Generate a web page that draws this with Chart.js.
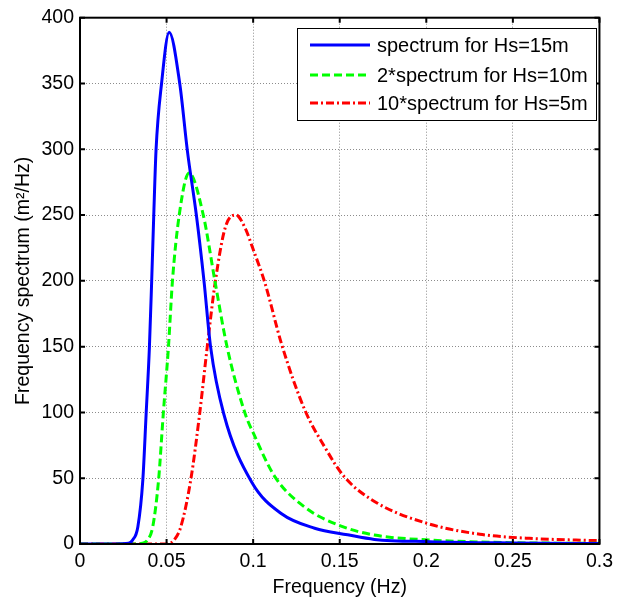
<!DOCTYPE html>
<html>
<head>
<meta charset="utf-8">
<script src="https://cdn.jsdelivr.net/npm/chart.js@4.4.1/dist/chart.umd.min.js"></script>
<style>
html,body{margin:0;padding:0;background:#fff;}
#wrap{position:relative;width:619px;height:601px;}
</style>
</head>
<body>
<div id="wrap"><canvas id="c" width="619" height="601"></canvas></div>
<script>
const seriesLabels = ['spectrum for Hs=15m', '2*spectrum for Hs=10m', '10*spectrum for Hs=5m'];
const xTickValues = [0, 0.05, 0.1, 0.15, 0.2, 0.25, 0.3];
const yTickValues = [0, 50, 100, 150, 200, 250, 300, 350, 400];

const blueFreq = [0, 0.02, 0.028, 0.0304, 0.0334, 0.0363, 0.0382, 0.0401, 0.0414, 0.0426, 0.0439, 0.0471, 0.0515, 0.0576, 0.062, 0.0672, 0.0716, 0.0754, 0.083, 0.0992, 0.1164, 0.1355, 0.1546, 0.17, 0.202, 0.25, 0.3];
const blueVals = [0, 0, 0.5, 3, 13, 49, 99, 150, 200, 250, 299, 350, 389, 350, 299, 250, 200, 150, 99, 47, 23, 12, 7, 3.5, 1.8, 0.8, 0.3];

const greenFreq = [0, 0.03, 0.036, 0.039, 0.042, 0.0454, 0.0481, 0.0511, 0.0534, 0.0573, 0.063, 0.0712, 0.0779, 0.0849, 0.0954, 0.1002, 0.1126, 0.1298, 0.1508, 0.17, 0.2023, 0.25, 0.3];
const greenVals = [0, 0, 0.5, 3, 13, 49, 99, 150, 200, 250, 282, 250, 200, 150, 99, 84, 51, 28, 13.6, 6.8, 3, 1, 0.5];

const redFreq = [0, 0.05, 0.052, 0.0544, 0.0582, 0.064, 0.0691, 0.0735, 0.0782, 0.084, 0.0901, 0.0954, 0.1, 0.1069, 0.1164, 0.1298, 0.1412, 0.1527, 0.1718, 0.2004, 0.2309, 0.2595, 0.3];
const redVals = [0, 0, 0.5, 3, 13, 49, 99, 150, 200, 241, 250, 240, 224, 198, 152, 102, 74, 51, 31, 15.7, 7.4, 4.3, 2.5];

const FONT = 'Arial, "Liberation Sans", sans-serif';

function pts(xs, ys){ return xs.map((x,i)=>({x:x, y:ys[i]})); }

const frameAndLegend = {
  id: 'frameAndLegend',
  afterDraw(chart){
    const ctx = chart.ctx, a = chart.chartArea;
    const xs = chart.scales.x, ys = chart.scales.y;
    ctx.save();
    ctx.strokeStyle = '#000';
    ctx.lineWidth = 2;
    ctx.strokeRect(a.left, a.top, a.right - a.left, a.bottom - a.top);
    ctx.beginPath();
    xTickValues.forEach(v=>{
      const p = xs.getPixelForValue(v);
      ctx.moveTo(p, a.bottom); ctx.lineTo(p, a.bottom - 5);
      ctx.moveTo(p, a.top); ctx.lineTo(p, a.top + 5);
    });
    yTickValues.forEach(v=>{
      const p = ys.getPixelForValue(v);
      ctx.moveTo(a.left, p); ctx.lineTo(a.left + 5, p);
      ctx.moveTo(a.right, p); ctx.lineTo(a.right - 5, p);
    });
    ctx.stroke();

    // legend box
    const bx = 297, by = 28, bw = 299, bh = 92;
    ctx.fillStyle = '#fff';
    ctx.fillRect(bx, by, bw, bh);
    ctx.lineWidth = 1;
    ctx.strokeStyle = '#000';
    ctx.strokeRect(bx + 0.5, by + 0.5, bw, bh);
    const rows = [45, 75, 103];
    chart.data.datasets.forEach((ds, i)=>{
      const y = rows[i];
      ctx.beginPath();
      ctx.strokeStyle = ds.borderColor;
      ctx.lineWidth = ds.borderWidth;
      ctx.setLineDash(ds.borderDash || []);
      ctx.moveTo(310, y); ctx.lineTo(370, y);
      ctx.stroke();
      ctx.setLineDash([]);
      ctx.fillStyle = '#000';
      ctx.font = '20px ' + FONT;
      ctx.textAlign = 'left';
      ctx.textBaseline = 'middle';
      ctx.fillText(ds.label, 377, y + 1);
    });
    ctx.restore();
  }
};

new Chart(document.getElementById('c'), {
  type: 'line',
  data: {
    datasets: [
      { label: seriesLabels[0], data: pts(blueFreq, blueVals), borderColor: '#0000ff', borderWidth: 3, pointRadius: 0, cubicInterpolationMode: 'monotone', fill: false },
      { label: seriesLabels[1], data: pts(greenFreq, greenVals), borderColor: '#00ff00', borderWidth: 3, borderDash: [8, 4], pointRadius: 0, cubicInterpolationMode: 'monotone', fill: false },
      { label: seriesLabels[2], data: pts(redFreq, redVals), borderColor: '#ff0000', borderWidth: 3, borderDash: [8, 3, 2, 3], pointRadius: 0, cubicInterpolationMode: 'monotone', fill: false }
    ]
  },
  options: {
    responsive: false,
    animation: false,
    devicePixelRatio: 1,
    layout: { padding: { top: 17, right: 15, left: 0, bottom: 0 } },
    plugins: { legend: { display: false }, tooltip: { enabled: false } },
    scales: {
      x: {
        type: 'linear', min: 0, max: 0.3,
        afterBuildTicks: s => { s.ticks = xTickValues.map(v=>({value:v})); },
        afterFit: s => { s.height = 57; },
        ticks: { color: '#000', font: { family: FONT, size: 19.5 }, padding: 6, maxRotation: 0,
                 callback: v => String(Number(v.toFixed(2))) },
        grid: { color: '#8c8c8c', lineWidth: 1, drawTicks: false },
        border: { display: false, dash: [1, 2] },
        title: { display: true, text: 'Frequency (Hz)', color: '#000', font: { family: FONT, size: 19.5 }, padding: { top: 2, bottom: 2 } }
      },
      y: {
        type: 'linear', min: 0, max: 400,
        afterBuildTicks: s => { s.ticks = yTickValues.map(v=>({value:v})); },
        afterFit: s => { s.width = 80; },
        ticks: { color: '#000', font: { family: FONT, size: 19.5 }, padding: 6 },
        grid: { color: '#8c8c8c', lineWidth: 1, drawTicks: false },
        border: { display: false, dash: [1, 2] },
        title: { display: true, text: 'Frequency spectrum (m²/Hz)', color: '#000', font: { family: FONT, size: 19.5 }, padding: { top: 12, bottom: 0 } }
      }
    }
  },
  plugins: [frameAndLegend]
});
</script>
</body>
</html>
